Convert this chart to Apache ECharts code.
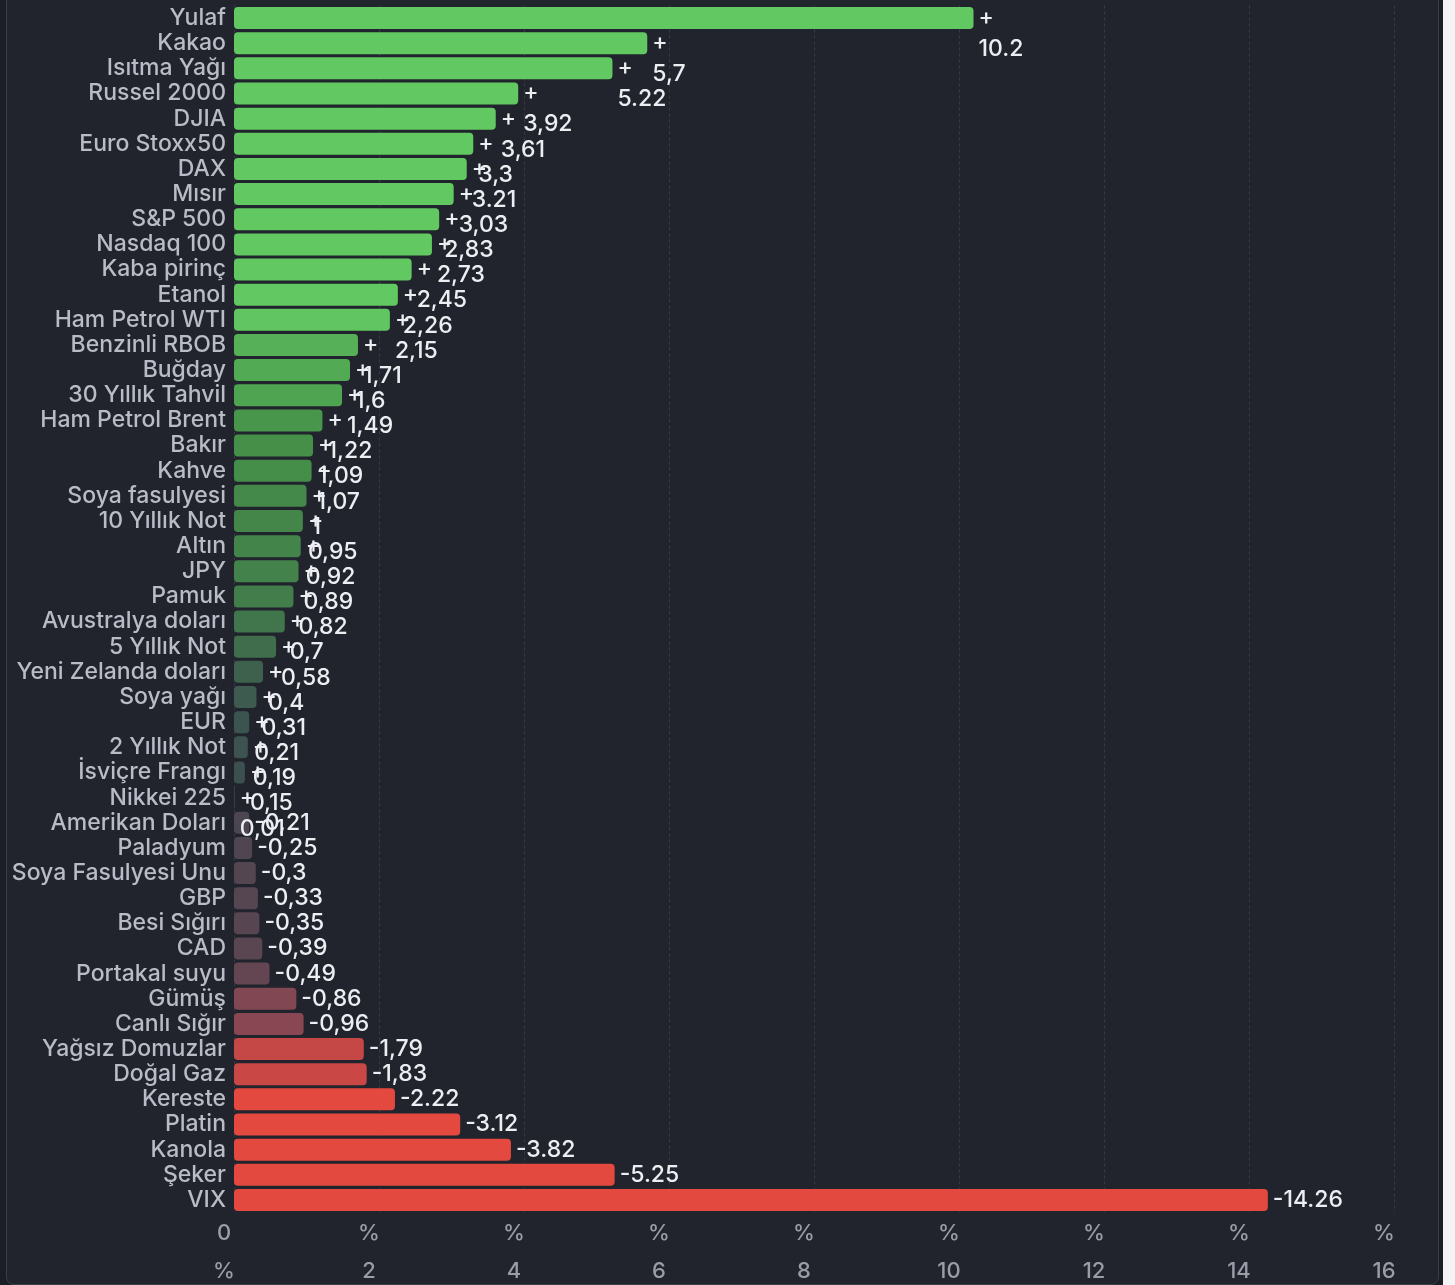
<!DOCTYPE html>
<html lang="tr">
<head>
    <meta charset="UTF-8">
    <title>Emtia ve endeks değişimleri</title>
    <script src="https://cdn.jsdelivr.net/npm/echarts@6/dist/echarts.min.js"></script>
    <style type="text/css">
        html, body {
            margin: 0;
            padding: 0;
            background: #f4f4f6;
        }

        #wrap {
            position: absolute;
            left: 0;
            top: 0;
            width: 1443px;
            height: 1285px;
            background: #1b1e25;
        }

        #panel {
            position: absolute;
            left: 6px;
            top: -10px;
            width: 1431px;
            height: 1293px;
            background: #21242d;
            border: 1px solid #3a3d46;
            border-radius: 8px;
        }

        #chart {
            position: absolute;
            left: 0;
            top: 0;
            width: 1455px;
            height: 1285px;
        }
    </style>
</head>
<body>
<div id="wrap"><div id="panel"></div></div>
<div id="chart"></div>
<script type="text/javascript">
    // kategoriler, yukaridan asagiya
    const names = ["Yulaf", "Kakao", "Isıtma Yağı", "Russel 2000", "DJIA", "Euro Stoxx50", "DAX", "Mısır",
        "S&P 500", "Nasdaq 100", "Kaba pirinç", "Etanol", "Ham Petrol WTI", "Benzinli RBOB", "Buğday",
        "30 Yıllık Tahvil", "Ham Petrol Brent", "Bakır", "Kahve", "Soya fasulyesi", "10 Yıllık Not", "Altın",
        "JPY", "Pamuk", "Avustralya doları", "5 Yıllık Not", "Yeni Zelanda doları", "Soya yağı", "EUR",
        "2 Yıllık Not", "İsviçre Frangı", "Nikkei 225", "Amerikan Doları", "Paladyum", "Soya Fasulyesi Unu",
        "GBP", "Besi Sığırı", "CAD", "Portakal suyu", "Gümüş", "Canlı Sığır", "Yağsız Domuzlar", "Doğal Gaz",
        "Kereste", "Platin", "Kanola", "Şeker", "VIX"];

    // yuzde degisim
    const changes = [10.2, 5.7, 5.22, 3.92, 3.61, 3.3, 3.21, 3.03,
        2.83, 2.73, 2.45, 2.26, 2.15, 1.71, 1.6,
        1.49, 1.22, 1.09, 1.07, 1, 0.95, 0.92,
        0.89, 0.82, 0.7, 0.58, 0.4, 0.31, 0.21,
        0.19, 0.15, 0.01, -0.21, -0.25, -0.3,
        -0.33, -0.35, -0.39, -0.49, -0.86, -0.96, -1.79, -1.83,
        -2.22, -3.12, -3.82, -5.25, -14.26];

    // etiket metinleri (resimdeki gibi virgul/nokta karisik)
    const valueTexts = ["10.2", "5,7", "5.22", "3,92", "3,61", "3,3", "3.21", "3,03",
        "2,83", "2,73", "2,45", "2,26", "2,15", "1,71", "1,6",
        "1,49", "1,22", "1,09", "1,07", "1", "0,95", "0,92",
        "0,89", "0,82", "0,7", "0,58", "0,4", "0,31", "0,21",
        "0,19", "0,15", "0,01", "-0,21", "-0,25", "-0,3",
        "-0,33", "-0,35", "-0,39", "-0,49", "-0,86", "-0,96", "-1,79", "-1,83",
        "-2.22", "-3.12", "-3.82", "-5.25", "-14.26"];

    const xTicks = [0, 2, 4, 6, 8, 10, 12, 14, 16];

    const font = "Inter, 'Noto Sans', sans-serif";

    const chart = echarts.init(document.getElementById("chart"), null, {renderer: "canvas"});

    const seriesData = changes.map((v, i) => {
        const positive = v >= 0;
        return {
            value: [Math.abs(v), i, v],
            label: positive ? {
                formatter: "+\n" + valueTexts[i],
                lineHeight: 31,
                offset: [0, 15.5]
            } : {
                formatter: valueTexts[i],
                lineHeight: 24,
                offset: [0, 0]
            }
        };
    });

    const option = {
        backgroundColor: "transparent",
        animation: false,
        grid: {
            left: 234,
            right: 61,
            top: 5.5,
            bottom: 72.5,
            containLabel: false,
            outerBoundsMode: "none"
        },
        visualMap: {
            show: false,
            type: "continuous",
            dimension: 2,
            seriesIndex: 0,
            min: -2.2,
            max: 2.2,
            inRange: {
                color: ["#e3493e", "#954753", "#3a4650", "#459049", "#62c962"]
            }
        },
        xAxis: {
            type: "value",
            min: 0,
            max: 16,
            interval: 2,
            axisLine: {show: false},
            axisTick: {show: false},
            splitLine: {
                show: true,
                lineStyle: {color: "#363a45", type: [3, 3], width: 1}
            },
            axisLabel: {
                margin: 2,
                color: "#9a9da7",
                fontFamily: font,
                fontSize: 22,
                fontWeight: 500,
                lineHeight: 38,
                padding: [0, 20, 0, 0],
                customValues: xTicks,
                formatter: v => v === 0 ? "0\n%" : "%\n" + v
            }
        },
        yAxis: {
            type: "category",
            inverse: true,
            data: names,
            axisLine: {show: false},
            axisTick: {show: false},
            axisLabel: {
                interval: 0,
                margin: 8,
                color: "#b9bcc6",
                fontFamily: font,
                fontSize: 23,
                fontWeight: 500
            }
        },
        series: [{
            type: "bar",
            data: seriesData,
            encode: {x: 0, y: 1},
            barWidth: 22,
            itemStyle: {
                borderRadius: 4
            },
            label: {
                show: true,
                position: "right",
                distance: 5,
                align: "left",
                color: "#eceef2",
                fontFamily: font,
                fontSize: 23,
                fontWeight: 500
            }
        }]
    };

    chart.setOption(option);
</script>
</body>
</html>
